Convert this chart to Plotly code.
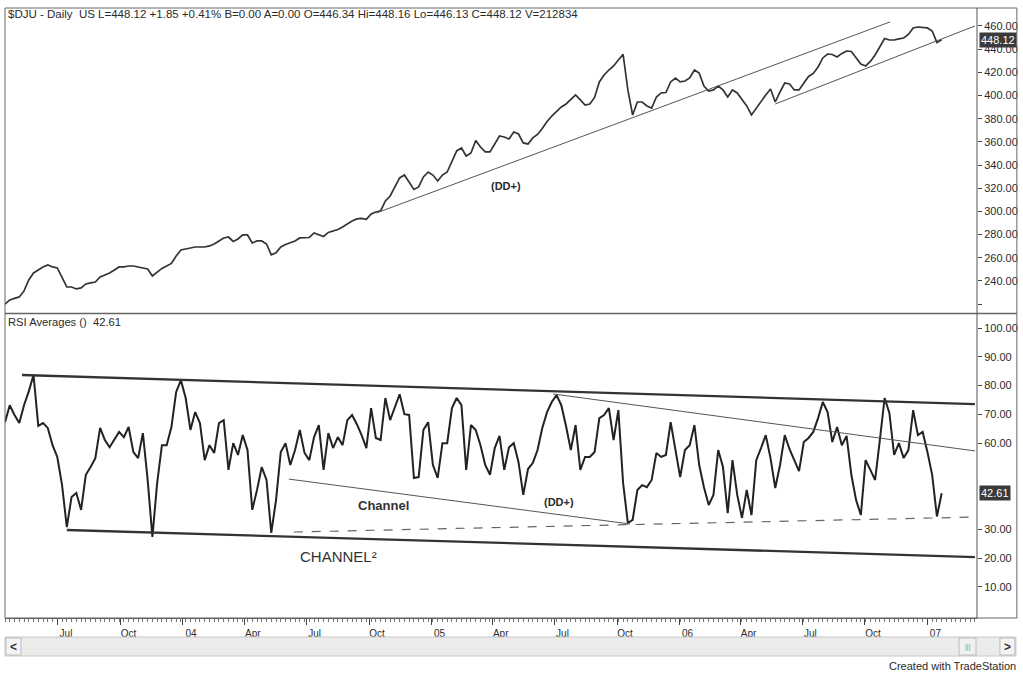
import plotly.graph_objects as go
import pandas as pd

# ---------------- data (weekly readings from the chart) ----------------
start_date = "2003-04-14"

price = [220.0, 223.6, 225.0, 226.2, 231.4, 240.8, 246.9, 249.5, 252.1, 253.8,
         252.1, 251.2, 242.6, 234.8, 234.8, 233.1, 234.0, 237.4, 238.3, 239.1,
         243.4, 245.2, 246.9, 249.5, 252.1, 252.1, 252.9, 252.9, 252.1, 251.6,
         250.3, 244.3, 247.8, 250.8, 252.9, 255.1, 261.5, 266.7, 267.6, 268.4,
         269.3, 269.3, 269.3, 270.2, 271.9, 274.5, 277.1, 277.9, 274.1, 276.2,
         279.7, 279.7, 272.8, 274.5, 274.5, 271.9, 262.5, 264.3, 269.3, 271.5,
         272.8, 274.5, 277.1, 277.1, 277.5, 281.4, 279.7, 278.4, 281.9, 283.1,
         284.4, 286.6, 289.2, 291.8, 293.5, 293.9, 293.1, 297.8, 299.5, 300.4,
         309.0, 313.3, 321.1, 328.9, 331.4, 325.4, 318.9, 321.1, 329.7, 334.0,
         331.4, 326.3, 331.4, 334.0, 342.7, 352.2, 354.7, 347.8, 350.4, 361.2,
         355.6, 351.3, 351.3, 358.2, 365.1, 364.2, 362.5, 368.5, 366.8, 359.1,
         358.2, 363.4, 366.4, 371.6, 377.6, 382.3, 386.3, 390.1, 392.7, 396.2,
         400.5, 396.2, 391.8, 392.7, 398.3, 411.7, 417.7, 422.0, 425.5, 430.7,
         435.5, 404.8, 383.2, 394.4, 394.4, 391.0, 389.2, 398.7, 402.2, 402.6,
         411.7, 415.1, 411.7, 412.5, 415.1, 422.0, 419.4, 408.2, 403.9, 404.8,
         408.2, 404.8, 398.7, 404.8, 402.2, 396.6, 391.0, 383.2, 389.2, 395.3,
         400.5, 405.6, 394.4, 403.1, 410.8, 410.0, 404.8, 404.8, 410.8, 416.4,
         419.0, 424.6, 432.4, 435.8, 435.4, 433.3, 436.3, 438.4, 438.0, 432.4,
         427.2, 425.5, 429.4, 435.0, 441.9, 449.2, 447.9, 447.9, 448.8, 449.6,
         452.7, 458.3, 459.1, 458.7, 458.3, 455.7, 445.8, 448.1]

rsi = [67.3, 73.2, 69.8, 67.0, 73.2, 78.0, 83.7, 66.0, 67.0, 65.3,
       59.3, 55.2, 45.4, 30.8, 41.3, 42.7, 36.8, 49.0, 51.7, 54.8,
       65.3, 61.1, 58.6, 61.1, 63.9, 62.1, 65.6, 56.9, 54.8, 63.5,
       47.2, 27.4, 46.1, 59.3, 59.3, 65.6, 77.8, 81.9, 75.7, 64.6,
       70.8, 67.0, 54.1, 59.3, 56.6, 67.0, 68.0, 50.7, 60.0, 55.9,
       62.8, 57.6, 36.8, 43.7, 51.7, 47.2, 28.8, 40.2, 56.9, 60.0,
       52.4, 57.6, 64.6, 56.6, 54.1, 62.1, 66.3, 50.7, 63.5, 58.3,
       62.1, 59.3, 68.0, 69.8, 66.6, 62.8, 58.3, 72.2, 61.8, 61.1,
       75.7, 68.0, 72.9, 77.0, 70.1, 69.8, 47.9, 48.2, 64.6, 67.3,
       52.4, 47.9, 60.0, 60.0, 72.2, 75.7, 73.2, 50.7, 66.3, 64.6,
       59.3, 52.4, 49.0, 58.3, 62.5, 50.7, 58.6, 60.0, 53.4, 42.0,
       51.0, 53.1, 57.6, 65.3, 70.8, 74.3, 76.7, 73.2, 65.9, 57.6,
       66.3, 50.7, 55.2, 55.2, 56.9, 68.7, 69.8, 72.2, 61.1, 71.5,
       46.1, 32.2, 33.3, 43.7, 45.4, 44.7, 47.2, 56.6, 55.2, 55.9,
       67.3, 57.6, 48.2, 57.6, 59.3, 66.3, 52.4, 44.7, 38.5, 42.0,
       57.6, 51.7, 35.7, 54.1, 42.0, 34.0, 43.7, 35.0, 54.1, 58.3,
       62.8, 54.8, 44.4, 52.4, 62.8, 57.9, 54.1, 50.3, 60.4, 61.8,
       63.9, 68.7, 74.3, 70.8, 60.4, 65.6, 59.3, 62.5, 49.0, 40.2,
       35.0, 54.1, 50.7, 47.2, 61.1, 75.7, 70.5, 55.9, 60.0, 54.8,
       57.6, 71.5, 62.8, 63.9, 56.9, 49.0, 34.5, 42.6]

dates = pd.date_range(start_date, periods=len(price), freq="7D")

# trend lines drawn on the chart (date, value endpoints)
dd_price_dates = ["2004-10-12", "2006-11-07"]
dd_price_vals = [298.7, 463.5]
chan_price_dates = ["2006-05-22", "2007-03-12"]
chan_price_vals = [392.7, 460.0]

rsi_top_dates = ["2003-05-09", "2007-03-12"]
rsi_top_vals = [83.7, 73.6]
rsi_bot_dates = ["2003-07-14", "2007-03-12"]
rsi_bot_vals = [29.8, 20.4]
rsi_chan_dates = ["2004-06-05", "2005-10-20"]
rsi_chan_vals = [47.5, 31.9]
rsi_dd_dates = ["2005-06-29", "2007-03-12"]
rsi_dd_vals = [77.1, 57.3]
rsi_dash_dates = ["2004-06-12", "2007-03-12"]
rsi_dash_vals = [29.1, 34.3]

tick_dates = ["2003-07-01", "2003-10-01", "2004-01-01", "2004-04-01", "2004-07-01",
              "2004-10-01", "2005-01-01", "2005-04-01", "2005-07-01", "2005-10-01",
              "2006-01-01", "2006-04-01", "2006-07-01", "2006-10-01", "2007-01-01"]
tick_text = ["Jul", "Oct", "04", "Apr", "Jul", "Oct", "05", "Apr", "Jul", "Oct",
             "06", "Apr", "Jul", "Oct", "07"]

price_ticks = [220, 240, 260, 280, 300, 320, 340, 360, 380, 400, 420, 440, 460]
rsi_ticks = [10, 20, 30, 60, 70, 80, 90, 100]

last_price = 448.12
last_rsi = 42.61

# ---------------- figure ----------------
W, H = 1023, 674
L, R, T, B = 5, 43, 8, 56


def px(x):
    return (x - L) / (W - L - R)


def py(y):
    return (H - B - y) / (H - T - B)


FONT = "Liberation Sans, Arial, sans-serif"
INK = "#2a2a2a"
SP2 = "\u00a0\u00a0"

fig = go.Figure()

fig.add_trace(go.Scatter(x=dates, y=price, mode="lines", yaxis="y",
                         line=dict(color="#333333", width=1.7), hoverinfo="skip"))
fig.add_trace(go.Scatter(x=dd_price_dates, y=dd_price_vals, mode="lines", yaxis="y",
                         line=dict(color="#555555", width=1), hoverinfo="skip"))
fig.add_trace(go.Scatter(x=chan_price_dates, y=chan_price_vals, mode="lines", yaxis="y",
                         line=dict(color="#555555", width=1), hoverinfo="skip"))

fig.add_trace(go.Scatter(x=dates, y=rsi, mode="lines", yaxis="y2",
                         line=dict(color="#222222", width=2), hoverinfo="skip"))
fig.add_trace(go.Scatter(x=rsi_top_dates, y=rsi_top_vals, mode="lines", yaxis="y2",
                         line=dict(color="#333333", width=2.3), hoverinfo="skip"))
fig.add_trace(go.Scatter(x=rsi_bot_dates, y=rsi_bot_vals, mode="lines", yaxis="y2",
                         line=dict(color="#333333", width=2.3), hoverinfo="skip"))
fig.add_trace(go.Scatter(x=rsi_chan_dates, y=rsi_chan_vals, mode="lines", yaxis="y2",
                         line=dict(color="#555555", width=1), hoverinfo="skip"))
fig.add_trace(go.Scatter(x=rsi_dd_dates, y=rsi_dd_vals, mode="lines", yaxis="y2",
                         line=dict(color="#555555", width=1), hoverinfo="skip"))
fig.add_trace(go.Scatter(x=rsi_dash_dates, y=rsi_dash_vals, mode="lines", yaxis="y2",
                         line=dict(color="#666666", width=1.2, dash="dash"), hoverinfo="skip"))

shapes = [
    # outer frame
    dict(type="rect", xref="paper", yref="paper", x0=0, x1=px(1020), y0=0, y1=1,
         line=dict(color="#666666", width=1)),
    # separator between panels
    dict(type="line", xref="paper", yref="paper", x0=0, x1=px(1020),
         y0=py(313.5), y1=py(313.5), line=dict(color="#666666", width=1.5)),
    # right axis line
    dict(type="line", xref="paper", yref="paper", x0=1, x1=1, y0=0, y1=1,
         line=dict(color="#555555", width=1)),
    # scrollbar
    dict(type="rect", xref="paper", yref="paper", x0=0, x1=px(1019),
         y0=py(656), y1=py(637), fillcolor="#ebebeb", line=dict(color="#c8c8c8", width=1)),
    dict(type="rect", xref="paper", yref="paper", x0=px(6), x1=px(21),
         y0=py(655), y1=py(638), fillcolor="#f4f4f4", line=dict(color="#bbbbbb", width=1)),
    dict(type="rect", xref="paper", yref="paper", x0=px(1003), x1=px(1018),
         y0=py(655), y1=py(638), fillcolor="#f4f4f4", line=dict(color="#bbbbbb", width=1)),
    dict(type="rect", xref="paper", yref="paper", x0=px(962), x1=px(979),
         y0=py(655), y1=py(638), fillcolor="#f1f1f1", line=dict(color="#bbbbbb", width=1)),
]


def label(text, x, y, size, xanchor="center", color=INK, **kw):
    return dict(text=text, xref="paper", yref="paper", x=px(x), y=py(y),
                xanchor=xanchor, yanchor="middle", showarrow=False,
                font=dict(family=FONT, size=size, color=color), **kw)


header = "$DJU - Daily" + SP2 + " ".join(["US L=448.12 +1.85 +0.41%", "B=0.00", "A=0.00",
                                          "O=446.34", "Hi=448.16", "Lo=446.13",
                                          "C=448.12", "V=212834"])

annotations = [
    label(header, 6, 14, 11.5, xanchor="left"),
    label("RSI Averages ()" + SP2 + "42.61", 6, 322, 11.2, xanchor="left"),
    label("<b>(DD+)</b>", 508, 186, 11),
    label("<b>Channel</b>", 385, 505, 13, color="#333333"),
    label("<b>(DD+)</b>", 561, 502, 11),
    label("CHANNEL²", 340, 556, 15, color="#333333"),
    label("Created with TradeStation", 1021, 666, 11, xanchor="right"),
    label("<b>&lt;</b>", 13.5, 646.5, 12, color="#333333"),
    label("<b>&gt;</b>", 1010.5, 646.5, 12, color="#333333"),
    label("|||", 970.5, 646.5, 7, color="#888888"),
    dict(text=f"{last_price:.2f}", xref="paper", yref="y", x=1, y=last_price,
         xanchor="left", yanchor="middle", xshift=2, showarrow=False, bgcolor="#3a3a3a",
         font=dict(family=FONT, size=11, color="#ffffff"), borderpad=1),
    dict(text=f"{last_rsi:.2f}", xref="paper", yref="y2", x=1, y=last_rsi,
         xanchor="left", yanchor="middle", xshift=2, showarrow=False, bgcolor="#3a3a3a",
         font=dict(family=FONT, size=11, color="#ffffff"), borderpad=1),
]

fig.update_layout(
    width=W, height=H,
    margin=dict(l=L, r=R, t=T, b=B),
    paper_bgcolor="white", plot_bgcolor="white",
    showlegend=False,
    font=dict(family=FONT, color=INK),
    shapes=shapes,
    annotations=annotations,
    xaxis=dict(
        type="date", range=["2003-04-14", "2007-03-15"], anchor="y2",
        tickvals=tick_dates, ticktext=tick_text, ticks="outside", ticklen=6,
        tickcolor="#444444", tickfont=dict(family=FONT, size=10, color=INK),
        ticklabelshift=8,
        minor=dict(ticks="outside", ticklen=3, dtick=7 * 86400000,
                   tick0="2003-04-14", tickcolor="#777777", showgrid=False),
        showgrid=False, zeroline=False, showline=True, linecolor="#555555",
    ),
    yaxis=dict(
        domain=[0.502, 1], range=[213.4, 475.5], side="right", anchor="x",
        tickvals=price_ticks,
        ticktext=[("" if v == 220 else f"{v:.2f}") for v in price_ticks],
        ticks="outside", ticklen=4, tickcolor="#444444",
        tickfont=dict(family=FONT, size=11, color=INK),
        showgrid=False, zeroline=False, showline=False,
    ),
    yaxis2=dict(
        domain=[0, 0.495], range=[-0.8, 104.2], side="right", anchor="x",
        tickvals=rsi_ticks, ticktext=[f"{v:.2f}" for v in rsi_ticks],
        ticks="outside", ticklen=4, tickcolor="#444444",
        tickfont=dict(family=FONT, size=11, color=INK),
        showgrid=False, zeroline=False, showline=False,
    ),
)

fig.write_html("out.html", config={"displayModeBar": False},
               post_script="document.body.style.margin='0px';document.body.style.overflow='hidden';")
